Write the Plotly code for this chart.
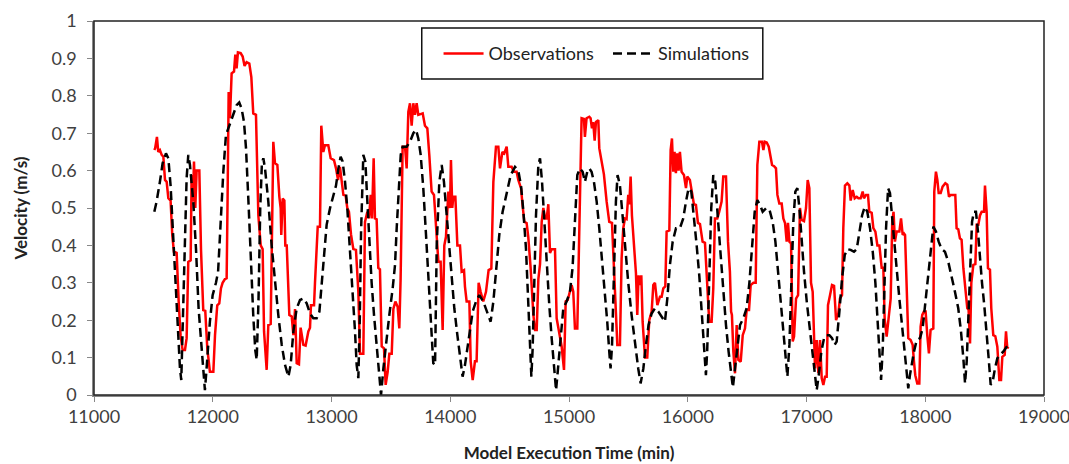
import plotly.graph_objects as go

obs_t = [11508,11515,11530,11541,11555,11570,11584,11598,11612,11626,11645,11659,11673,11696,11713,11729,11746,11766,11780,11794,11814,11822,11833,11842,11853,11864,11887,11901,11920,11937,11954,11976,12005,12019,12038,12055,12069,12083,12103,12117,12125,12134,12145,12159,12179,12190,12201,12212,12235,12252,12268,12285,12308,12325,12341,12364,12384,12404,12420,12432,12454,12468,12488,12510,12524,12544,12561,12572,12577,12589,12603,12611,12623,12645,12665,12679,12693,12707,12726,12740,12763,12782,12805,12819,12827,12853,12861,12884,12903,12914,12931,12945,12973,12980,12993,13021,13038,13055,13071,13100,13119,13133,13147,13164,13184,13206,13226,13240,13268,13282,13302,13316,13330,13341,13355,13366,13380,13394,13408,13423,13442,13456,13473,13487,13507,13521,13538,13557,13571,13582,13599,13619,13633,13647,13661,13675,13689,13703,13717,13731,13768,13787,13807,13824,13843,13863,13880,13900,13919,13936,13950,13964,13984,13998,14006,14017,14026,14043,14060,14082,14096,14116,14124,14138,14161,14172,14189,14208,14222,14239,14256,14278,14301,14323,14346,14363,14385,14405,14419,14439,14455,14475,14489,14517,14537,14559,14573,14596,14610,14624,14643,14657,14677,14700,14714,14728,14742,14756,14770,14784,14798,14812,14826,14840,14854,14882,14896,14919,14938,14958,14972,14989,15008,15022,15036,15050,15070,15087,15106,15126,15134,15148,15171,15182,15193,15204,15216,15227,15247,15255,15275,15294,15317,15339,15362,15379,15395,15407,15429,15443,15457,15471,15485,15499,15508,15519,15530,15547,15564,15575,15586,15597,15609,15620,15640,15659,15676,15696,15710,15724,15744,15766,15780,15794,15811,15822,15845,15856,15867,15878,15889,15900,15912,15923,15934,15948,15968,15985,15996,16018,16035,16052,16069,16086,16103,16125,16145,16164,16181,16201,16215,16229,16249,16265,16285,16299,16322,16339,16355,16365,16372,16384,16398,16412,16426,16446,16463,16482,16496,16516,16530,16553,16572,16586,16603,16625,16637,16648,16665,16682,16693,16710,16727,16743,16755,16771,16791,16805,16819,16833,16844,16856,16870,16884,16895,16912,16929,16945,16959,16979,16996,17010,17024,17038,17052,17072,17086,17100,17114,17128,17142,17156,17170,17181,17198,17215,17232,17249,17268,17282,17299,17310,17324,17344,17361,17372,17389,17406,17423,17437,17456,17473,17484,17501,17518,17529,17549,17563,17580,17597,17614,17633,17647,17658,17675,17692,17709,17722,17733,17745,17759,17782,17796,17810,17821,17830,17843,17857,17877,17894,17905,17916,17933,17950,17961,17975,17989,18003,18017,18031,18045,18068,18076,18090,18102,18113,18130,18146,18169,18186,18200,18214,18236,18253,18264,18278,18292,18306,18321,18337,18354,18365,18377,18388,18405,18422,18433,18447,18461,18475,18495,18503,18517,18528,18545,18556,18573,18590,18607,18624,18638,18649,18669,18680,18691,18700]
obs_v = [0.655,0.66,0.69,0.65,0.655,0.642,0.637,0.575,0.57,0.526,0.52,0.428,0.383,0.38,0.25,0.16,0.12,0.12,0.152,0.356,0.36,0.588,0.517,0.624,0.50,0.60,0.60,0.39,0.227,0.225,0.125,0.062,0.062,0.16,0.24,0.245,0.285,0.30,0.31,0.312,0.526,0.81,0.74,0.86,0.865,0.91,0.873,0.916,0.914,0.905,0.88,0.89,0.886,0.85,0.753,0.749,0.48,0.40,0.39,0.17,0.067,0.187,0.19,0.677,0.62,0.615,0.53,0.50,0.428,0.525,0.52,0.40,0.40,0.214,0.21,0.16,0.23,0.085,0.082,0.18,0.134,0.132,0.17,0.18,0.24,0.24,0.30,0.45,0.45,0.72,0.65,0.668,0.668,0.655,0.633,0.628,0.606,0.575,0.61,0.535,0.533,0.50,0.49,0.43,0.39,0.388,0.276,0.11,0.11,0.463,0.49,0.472,0.535,0.472,0.633,0.472,0.47,0.34,0.336,0.13,0.125,0.027,0.062,0.11,0.11,0.23,0.25,0.236,0.178,0.31,0.664,0.664,0.606,0.757,0.78,0.72,0.78,0.749,0.78,0.749,0.753,0.72,0.713,0.64,0.544,0.535,0.446,0.356,0.356,0.174,0.40,0.423,0.544,0.50,0.628,0.50,0.53,0.53,0.40,0.40,0.33,0.334,0.29,0.25,0.25,0.09,0.04,0.09,0.09,0.30,0.276,0.25,0.276,0.334,0.338,0.57,0.664,0.664,0.606,0.65,0.646,0.664,0.61,0.61,0.597,0.597,0.575,0.553,0.504,0.463,0.46,0.423,0.339,0.214,0.174,0.174,0.31,0.35,0.463,0.50,0.472,0.472,0.51,0.38,0.39,0.39,0.205,0.16,0.13,0.067,0.25,0.254,0.276,0.294,0.276,0.178,0.178,0.463,0.74,0.738,0.69,0.74,0.744,0.74,0.713,0.73,0.68,0.73,0.735,0.66,0.624,0.59,0.517,0.463,0.46,0.34,0.254,0.134,0.134,0.365,0.446,0.472,0.47,0.535,0.51,0.584,0.48,0.40,0.325,0.214,0.32,0.294,0.32,0.196,0.10,0.10,0.20,0.223,0.294,0.30,0.24,0.263,0.263,0.285,0.29,0.437,0.44,0.655,0.686,0.597,0.65,0.593,0.646,0.60,0.65,0.597,0.588,0.553,0.584,0.575,0.535,0.51,0.508,0.46,0.457,0.41,0.407,0.31,0.196,0.196,0.285,0.472,0.472,0.49,0.517,0.584,0.584,0.41,0.33,0.223,0.214,0.116,0.058,0.187,0.094,0.089,0.16,0.178,0.227,0.227,0.294,0.30,0.30,0.615,0.677,0.677,0.655,0.677,0.675,0.664,0.642,0.615,0.612,0.606,0.535,0.512,0.512,0.472,0.46,0.41,0.46,0.41,0.405,0.143,0.156,0.258,0.267,0.50,0.468,0.465,0.50,0.575,0.553,0.30,0.276,0.071,0.147,0.058,0.147,0.045,0.027,0.049,0.049,0.24,0.267,0.294,0.292,0.20,0.218,0.258,0.267,0.446,0.56,0.566,0.56,0.52,0.548,0.526,0.53,0.526,0.526,0.544,0.526,0.535,0.535,0.49,0.487,0.446,0.437,0.40,0.40,0.34,0.34,0.205,0.156,0.214,0.258,0.463,0.49,0.41,0.437,0.437,0.472,0.428,0.432,0.428,0.267,0.152,0.147,0.134,0.089,0.053,0.031,0.031,0.183,0.214,0.223,0.223,0.16,0.111,0.174,0.178,0.544,0.597,0.575,0.54,0.54,0.557,0.566,0.562,0.53,0.535,0.535,0.535,0.446,0.443,0.419,0.415,0.339,0.285,0.232,0.228,0.138,0.30,0.348,0.35,0.455,0.455,0.48,0.49,0.49,0.56,0.49,0.339,0.335,0.232,0.16,0.157,0.129,0.04,0.04,0.102,0.107,0.17,0.125,0.129]

sim_t = [11508,11527,11555,11578,11606,11626,11645,11668,11690,11710,11724,11735,11750,11765,11780,11794,11808,11836,11859,11881,11906,11920,11934,11948,11976,11999,12027,12045,12066,12089,12111,12139,12173,12201,12223,12243,12263,12280,12302,12322,12341,12358,12370,12385,12400,12414,12426,12440,12468,12496,12524,12552,12581,12609,12637,12656,12679,12707,12735,12763,12791,12819,12847,12875,12898,12917,12937,12959,12988,13016,13038,13058,13077,13094,13114,13133,13156,13178,13198,13212,13226,13238,13249,13268,13285,13302,13319,13338,13358,13380,13403,13417,13437,13459,13487,13515,13535,13549,13563,13583,13599,13633,13661,13689,13712,13731,13751,13773,13796,13818,13838,13857,13872,13886,13908,13928,13947,13970,13992,14012,14034,14060,14082,14104,14124,14144,14166,14189,14217,14245,14278,14312,14340,14363,14385,14413,14441,14475,14509,14545,14573,14596,14616,14638,14657,14672,14683,14694,14705,14722,14742,14756,14773,14792,14812,14834,14854,14874,14891,14910,14930,14952,14980,15008,15030,15050,15070,15092,15115,15134,15154,15171,15190,15210,15233,15255,15277,15300,15322,15339,15350,15362,15379,15395,15409,15429,15451,15474,15499,15527,15555,15583,15603,15626,15648,15670,15696,15724,15752,15780,15808,15828,15850,15873,15901,15934,15962,15985,16007,16030,16052,16075,16097,16117,16136,16153,16164,16181,16198,16215,16232,16252,16277,16299,16322,16344,16367,16380,16398,16418,16440,16468,16496,16519,16541,16564,16586,16609,16631,16659,16687,16715,16738,16760,16783,16805,16822,16839,16856,16873,16889,16906,16923,16940,16960,16979,17002,17024,17047,17069,17086,17103,17125,17148,17170,17193,17215,17237,17254,17277,17299,17322,17344,17372,17400,17423,17445,17468,17490,17512,17535,17558,17580,17597,17614,17628,17642,17656,17670,17687,17703,17717,17737,17759,17782,17804,17827,17843,17857,17871,17888,17905,17928,17956,17978,18001,18023,18040,18057,18068,18090,18113,18138,18166,18194,18222,18250,18278,18301,18321,18335,18349,18363,18377,18394,18410,18427,18444,18461,18478,18497,18517,18534,18551,18568,18587,18607,18629,18657,18686,18708]
sim_v = [0.49,0.517,0.57,0.62,0.646,0.633,0.56,0.41,0.30,0.16,0.071,0.04,0.20,0.42,0.58,0.642,0.615,0.517,0.39,0.23,0.125,0.062,0.013,0.071,0.196,0.267,0.30,0.33,0.463,0.597,0.695,0.72,0.75,0.775,0.782,0.766,0.73,0.66,0.508,0.348,0.214,0.12,0.094,0.25,0.50,0.62,0.633,0.606,0.517,0.40,0.30,0.214,0.134,0.08,0.049,0.08,0.17,0.232,0.254,0.258,0.245,0.218,0.205,0.205,0.223,0.294,0.374,0.455,0.50,0.535,0.56,0.606,0.637,0.624,0.57,0.50,0.39,0.276,0.17,0.08,0.045,0.20,0.437,0.642,0.624,0.517,0.41,0.30,0.214,0.134,0.053,0.0,0.071,0.143,0.214,0.285,0.348,0.446,0.535,0.642,0.664,0.664,0.677,0.70,0.709,0.686,0.642,0.553,0.428,0.30,0.196,0.085,0.08,0.40,0.57,0.615,0.57,0.48,0.39,0.31,0.232,0.16,0.107,0.049,0.08,0.125,0.17,0.223,0.25,0.267,0.25,0.223,0.196,0.25,0.33,0.428,0.49,0.544,0.588,0.61,0.60,0.56,0.49,0.39,0.258,0.125,0.049,0.125,0.30,0.48,0.615,0.633,0.57,0.463,0.356,0.24,0.152,0.08,0.013,0.08,0.16,0.232,0.25,0.276,0.34,0.48,0.588,0.606,0.597,0.57,0.597,0.606,0.597,0.57,0.517,0.446,0.365,0.285,0.196,0.116,0.071,0.13,0.374,0.517,0.588,0.56,0.48,0.39,0.30,0.214,0.134,0.071,0.031,0.071,0.134,0.187,0.218,0.232,0.223,0.21,0.196,0.258,0.348,0.41,0.446,0.446,0.472,0.517,0.553,0.544,0.48,0.40,0.32,0.232,0.143,0.053,0.12,0.348,0.50,0.588,0.57,0.48,0.374,0.276,0.187,0.116,0.053,0.02,0.071,0.134,0.187,0.205,0.232,0.30,0.40,0.49,0.521,0.508,0.49,0.499,0.497,0.463,0.41,0.33,0.25,0.16,0.089,0.049,0.134,0.30,0.463,0.544,0.553,0.50,0.41,0.33,0.25,0.187,0.125,0.062,0.013,0.053,0.116,0.152,0.16,0.16,0.152,0.134,0.143,0.223,0.31,0.374,0.39,0.388,0.383,0.39,0.437,0.48,0.503,0.49,0.446,0.383,0.30,0.214,0.125,0.04,0.125,0.30,0.446,0.553,0.54,0.49,0.41,0.339,0.258,0.187,0.125,0.053,0.018,0.053,0.089,0.116,0.147,0.152,0.178,0.25,0.31,0.374,0.428,0.45,0.437,0.41,0.39,0.383,0.356,0.32,0.276,0.232,0.17,0.098,0.031,0.089,0.214,0.348,0.463,0.49,0.49,0.437,0.356,0.30,0.24,0.17,0.098,0.027,0.036,0.071,0.098,0.107,0.116,0.129,0.138]

x_ticks = [11000, 12000, 13000, 14000, 15000, 16000, 17000, 18000, 19000]
x_tick_text = ["11000", "12000", "13000", "14000", "15000", "16000", "17000", "18000", "19000"]
y_ticks = [0, 0.1, 0.2, 0.3, 0.4, 0.5, 0.6, 0.7, 0.8, 0.9, 1]
y_tick_text = ["0", "0.1", "0.2", "0.3", "0.4", "0.5", "0.6", "0.7", "0.8", "0.9", "1"]

FONT = "Lato, 'Open Sans', sans-serif"

fig = go.Figure()
fig.add_trace(go.Scatter(x=obs_t, y=obs_v, mode="lines", name="Observations\u00a0\u00a0",
                         line=dict(color="#ff0000", width=2.5)))
fig.add_trace(go.Scatter(x=sim_t, y=sim_v, mode="lines", name="Simulations",
                         line=dict(color="#000000", width=2.5, dash="9px,5px")))

fig.update_layout(
    width=1069, height=464,
    margin=dict(l=94, r=25, t=21, b=69, autoexpand=False),
    paper_bgcolor="white", plot_bgcolor="white",
    font=dict(family=FONT, size=18, color="#404040"),
    showlegend=True,
    legend=dict(orientation="h", x=0.529, xanchor="center", y=0.962, yanchor="top",
                bgcolor="rgba(0,0,0,0)", borderwidth=0,
                font=dict(family=FONT, size=18, color="#222222"),
                itemwidth=40),
    xaxis=dict(range=[11000, 19000], tickvals=x_ticks, ticktext=x_tick_text,
               ticks="outside", ticklen=5, automargin=False, ticklabeloverflow="allow",
               tickcolor="#888888", showgrid=False, zeroline=False,
               showline=True, linecolor="#888888", linewidth=1.5,
               tickfont=dict(family=FONT, size=18, color="#404040"),
               title=dict(text="<b>Model Execution Time (min)</b>", standoff=21,
                          font=dict(family=FONT, size=17, color="#222222"))),
    yaxis=dict(range=[0, 1], tickvals=y_ticks, ticktext=y_tick_text,
               ticks="outside", ticklen=5, automargin=False, ticklabelstandoff=7,
               tickcolor="#888888", showgrid=False, zeroline=False,
               showline=True, linecolor="#888888", linewidth=1.5,
               tickfont=dict(family=FONT, size=18, color="#404040"),
               title=dict(text="<b>Velocity (m/s)</b>", standoff=20,
                          font=dict(family=FONT, size=17, color="#222222"))),
)

fig.add_shape(type="rect", xref="paper", yref="paper", x0=0, y0=0, x1=1, y1=1,
              line=dict(color="#222222", width=1.5), layer="above")
fig.add_shape(type="rect", xref="paper", yref="paper", x0=0.345, y0=0.845, x1=0.704, y1=0.981,
              line=dict(color="#111111", width=1.5), fillcolor="rgba(0,0,0,0)", layer="above")

# remove the default page margin so the 1069x464 figure fills the window exactly
fig.write_html("out.html", config={"displayModeBar": False},
               post_script="document.body.style.margin='0';document.body.style.overflow='hidden';")
